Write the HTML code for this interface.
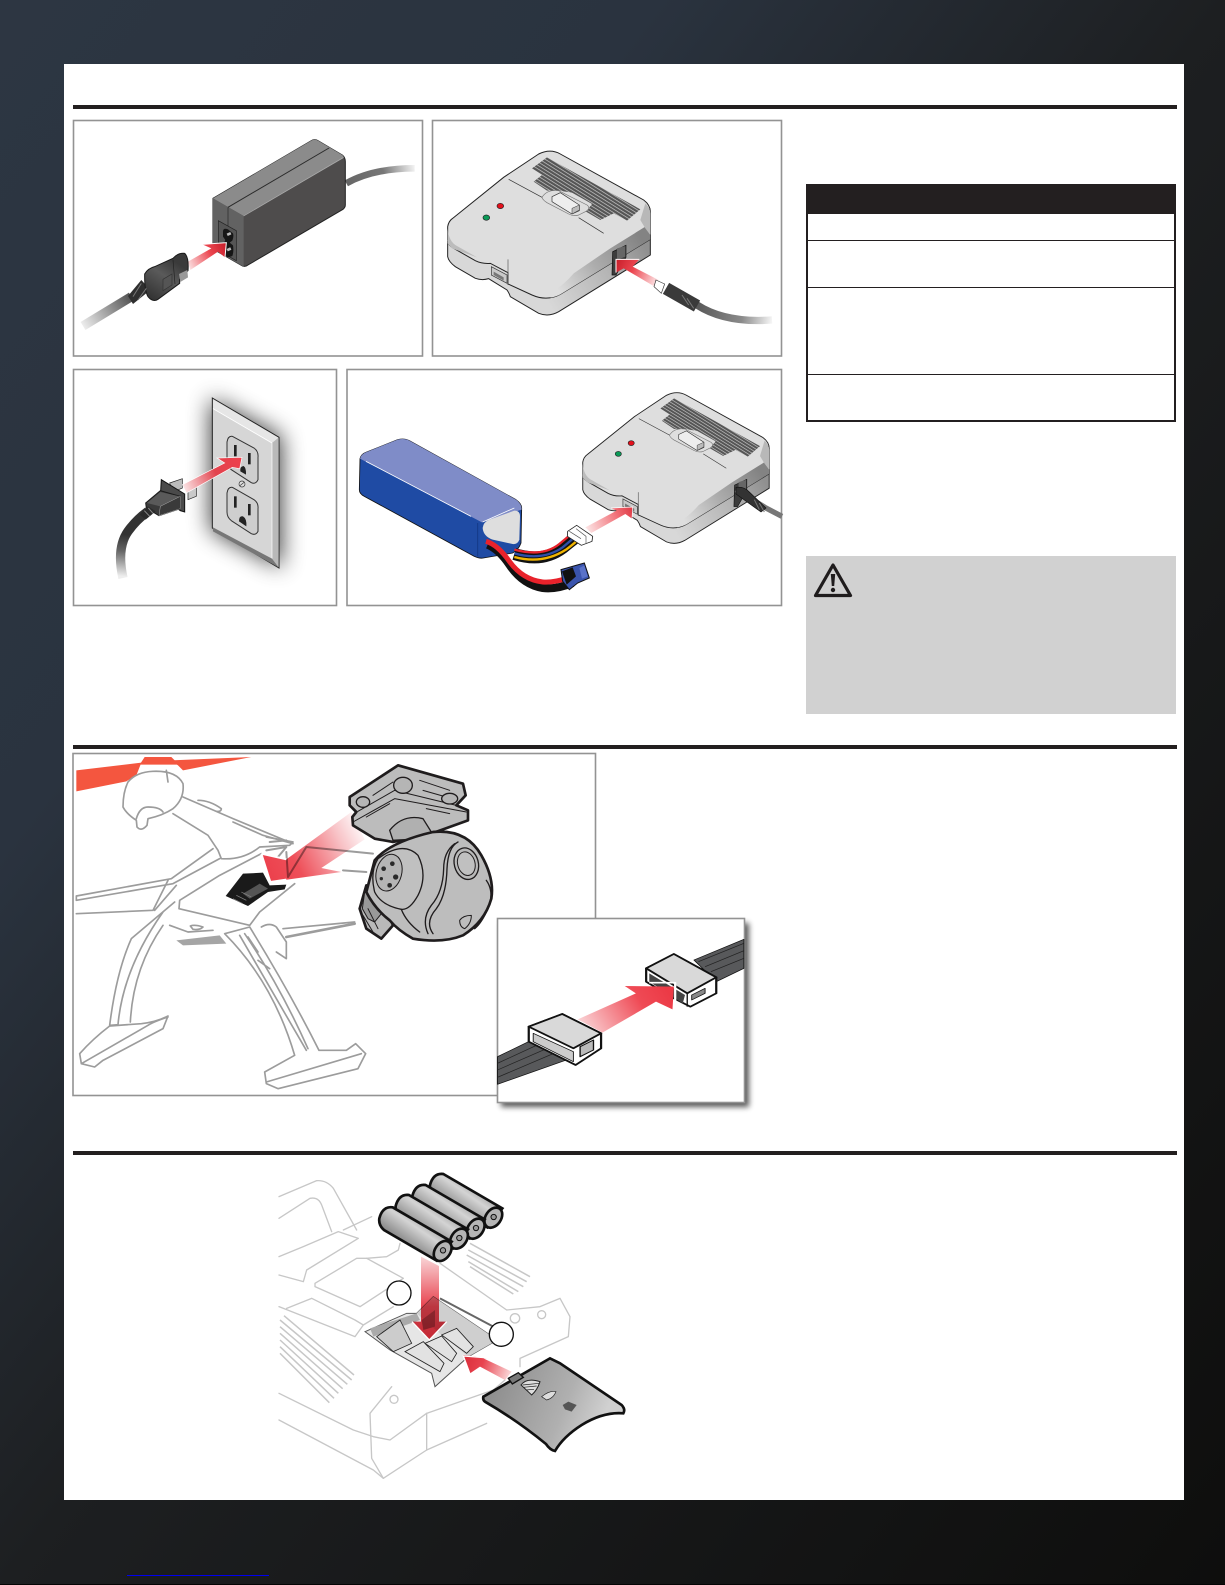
<!DOCTYPE html>
<html><head><meta charset="utf-8"><title>Setup diagram</title>
<style>
html,body{margin:0;padding:0;width:1225px;height:1585px;overflow:hidden}
body{background:linear-gradient(to bottom right,#2d3642 0,#2a333f 27%,#1d1f21 50%,#0e0e0d 100%)}
svg{position:absolute;left:0;top:0;display:block}
</style></head><body>
<svg width="1225" height="1585" viewBox="0 0 1225 1585" xmlns="http://www.w3.org/2000/svg">
<defs>
<filter id="b6" x="-60%" y="-60%" width="220%" height="220%"><feGaussianBlur stdDeviation="34"/></filter>
<filter id="b2" x="-10%" y="-10%" width="120%" height="120%"><feGaussianBlur stdDeviation="3"/></filter>
<linearGradient id="a1" gradientUnits="userSpaceOnUse" x1="345" y1="440" x2="460" y2="380"><stop offset="0" stop-color="#fbe3e4"/><stop offset=".6" stop-color="#ec4650"/><stop offset="1" stop-color="#c9202c"/></linearGradient>
<linearGradient id="c1" gradientUnits="userSpaceOnUse" x1="30" y1="620" x2="170" y2="530"><stop offset="0" stop-color="#eee"/><stop offset="1" stop-color="#555"/></linearGradient>
<linearGradient id="c2" gradientUnits="userSpaceOnUse" x1="820" y1="190" x2="1025" y2="145"><stop offset="0" stop-color="#666"/><stop offset=".55" stop-color="#777"/><stop offset="1" stop-color="#f2f2f2"/></linearGradient>
<linearGradient id="pl" gradientUnits="userSpaceOnUse" x1="225" y1="530" x2="300" y2="420"><stop offset="0" stop-color="#333"/><stop offset=".6" stop-color="#5a5a5a"/><stop offset="1" stop-color="#3a3a3a"/></linearGradient>
<linearGradient id="a2" gradientUnits="userSpaceOnUse" x1="680" y1="480" x2="555" y2="420"><stop offset="0" stop-color="#fde7e8"/><stop offset=".6" stop-color="#ec4650"/><stop offset="1" stop-color="#c9202c"/></linearGradient>
<linearGradient id="c3" gradientUnits="userSpaceOnUse" x1="800" y1="560" x2="1020" y2="600"><stop offset="0" stop-color="#5a5a5a"/><stop offset=".6" stop-color="#8a8a8a"/><stop offset="1" stop-color="#f5f5f5"/></linearGradient>
<linearGradient id="sh" gradientUnits="userSpaceOnUse" x1="385" y1="520" x2="620" y2="345"><stop offset="0" stop-color="#dedede"/><stop offset=".45" stop-color="#adadad"/><stop offset="1" stop-color="#838383"/></linearGradient>
<linearGradient id="sb" gradientUnits="userSpaceOnUse" x1="360" y1="570" x2="650" y2="400"><stop offset="0" stop-color="#d8d8d8"/><stop offset=".6" stop-color="#b5b5b5"/><stop offset="1" stop-color="#909090"/></linearGradient>
<linearGradient id="a3" gradientUnits="userSpaceOnUse" x1="330" y1="355" x2="505" y2="275"><stop offset="0" stop-color="#fbe4e5"/><stop offset=".55" stop-color="#e2434e"/><stop offset="1" stop-color="#ee3f4b"/></linearGradient>
<linearGradient id="c4" gradientUnits="userSpaceOnUse" x1="150" y1="625" x2="160" y2="500"><stop offset="0" stop-color="#eee"/><stop offset=".6" stop-color="#666"/><stop offset="1" stop-color="#333"/></linearGradient>
<linearGradient id="a4" gradientUnits="userSpaceOnUse" x1="715" y1="480" x2="860" y2="420"><stop offset="0" stop-color="#fdeaea"/><stop offset=".7" stop-color="#f06a72"/><stop offset="1" stop-color="#de3a45"/></linearGradient>
<linearGradient id="a5" gradientUnits="userSpaceOnUse" x1="870" y1="210" x2="570" y2="360"><stop offset="0" stop-color="#fff"/><stop offset=".25" stop-color="#f8c4c8"/><stop offset=".7" stop-color="#ee4f59"/><stop offset="1" stop-color="#ec3f4b"/></linearGradient>
<linearGradient id="a6" gradientUnits="userSpaceOnUse" x1="1160" y1="870" x2="1370" y2="770"><stop offset="0" stop-color="#fbdfe1"/><stop offset=".7" stop-color="#ef4a55"/><stop offset="1" stop-color="#ec3a46"/></linearGradient>
<linearGradient id="a7" gradientUnits="userSpaceOnUse" x1="510" y1="320" x2="510" y2="570"><stop offset="0" stop-color="#f9d5d7"/><stop offset=".6" stop-color="#e8434f"/><stop offset="1" stop-color="#d92d3a"/></linearGradient>
<linearGradient id="a8" gradientUnits="userSpaceOnUse" x1="755" y1="670" x2="610" y2="620"><stop offset="0" stop-color="#fbdcdd"/><stop offset=".6" stop-color="#e8434f"/><stop offset="1" stop-color="#d92d3a"/></linearGradient>
<linearGradient id="bat" gradientUnits="userSpaceOnUse" x1="385" y1="245" x2="440" y2="165"><stop offset="0" stop-color="#8a8a8a"/><stop offset=".6" stop-color="#d4d4d4"/><stop offset="1" stop-color="#9a9a9a"/></linearGradient>
<linearGradient id="cov" gradientUnits="userSpaceOnUse" x1="700" y1="700" x2="1020" y2="830"><stop offset="0" stop-color="#8e8e8e"/><stop offset=".65" stop-color="#b0b0b0"/><stop offset="1" stop-color="#d0d0d0"/></linearGradient>
<pattern id="vent" patternUnits="userSpaceOnUse" width="9" height="9" patternTransform="rotate(-58)"><rect width="9" height="9" fill="#cfcfcf"/><rect width="7" height="9" fill="#555"/></pattern>
<g id="charger">
<path d="M47 365V410Q50 425 70 440L130 475Q150 482 170 476L225 510Q232 520 235 530L320 580Q350 592 380 575L655 405V345L400 430 47 365Z" fill="url(#sb)" stroke="#222" stroke-width="3"/>
<path d="M47 320Q50 303 62 295L215 172 320 102Q355 85 385 102L635 240Q655 255 655 275V358L385 523Q345 545 300 525L228 492V458L175 430Q150 432 130 422L65 385Q47 375 47 360Z" fill="#dedede" stroke="#222" stroke-width="3"/>
<path d="M365 512Q395 495 425 460L535 385 640 320 655 345V358L385 523Q372 530 355 533Z" fill="url(#sh)"/>
<path d="M640 250Q655 265 655 280V345L640 325 625 300Z" fill="#b8b8b8"/>
<path d="M47 325Q50 365 75 378L135 412 60 385 47 370Z" fill="#bcbcbc"/>
<path d="M300 145 345 112 625 268 585 302 545 280 505 300 462 275 480 252 420 218 380 212 345 212 305 185 330 165Z" fill="url(#vent)"/>
<path d="M330 232Q345 208 380 212L465 255Q478 265 460 275L440 285Q425 290 410 282L345 248Q332 240 330 232Z" fill="#dedede" stroke="#777" stroke-width="2"/>
<path d="M360 230 385 218 442 255V272L420 282 360 245Z" fill="#eee" stroke="#333" stroke-width="2"/>
<path d="M420 282 442 270V255L420 265Z" fill="#bbb" stroke="#333" stroke-width="1.500"/>
<path d="M230 178 330 232M440 293 515 340" stroke="#333" stroke-width="2" fill="none"/>
<ellipse cx="205" cy="258" rx="10" ry="8" fill="#e3101c" stroke="#222" stroke-width="2"/>
<ellipse cx="163" cy="293" rx="10" ry="8" fill="#0b9a58" stroke="#222" stroke-width="2"/>
<path d="M178 440 225 465V490L178 465Z" fill="#c9c9c9" stroke="#333" stroke-width="2"/>
<path d="M185 455 215 472V482L185 465Z" fill="#777"/>
<path d="M228 418V495" stroke="#555" stroke-width="2"/>
<path d="M542 395 582 376V412L552 465H540Z" fill="#3c3c3c" stroke="#111" stroke-width="2"/>
<path d="M555 385 580 378V410L555 420Z" fill="#666"/>
</g>
<g id="bat1">
<path d="M358 205Q368 168 398 172L575 275 530 332 372 240Q355 225 358 205Z" fill="url(#bat)" stroke="#111" stroke-width="8"/>
<ellipse cx="548" cy="303" rx="23" ry="33" transform="rotate(35 548 303)" fill="#b5b5b5" stroke="#111" stroke-width="8"/>
<circle cx="549" cy="301" r="8" fill="#999" stroke="#111" stroke-width="3"/>
</g>
</defs>

<!-- sheet -->
<rect x="64" y="64" width="1120" height="1436" fill="#fff"/>
<rect x="127" y="1575" width="142" height="1" fill="#0000ee"/>
<rect x="0" y="1584" width="1225" height="1" fill="#050505"/>
<rect x="73" y="105" width="1104" height="4" fill="#231f20"/>
<rect x="73" y="745" width="1104" height="4" fill="#231f20"/>
<rect x="73" y="1151" width="1104" height="4" fill="#231f20"/>

<!-- frames -->
<g fill="#fff" stroke="#939393" stroke-width="1.600">
<rect x="73.500" y="120.500" width="349" height="235.500"/>
<rect x="432.500" y="120.500" width="349" height="235.500"/>
<rect x="73.500" y="369.500" width="263" height="236"/>
<rect x="347" y="369.500" width="434.500" height="236"/>
<rect x="73" y="753.500" width="522.500" height="342"/>
</g>

<!-- table -->
<rect x="807" y="185" width="368" height="236" fill="#fff" stroke="#231f20" stroke-width="2"/>
<rect x="806" y="184" width="370" height="30" fill="#231f20"/>
<rect x="807" y="240" width="368" height="1" fill="#231f20"/>
<rect x="807" y="287" width="368" height="1" fill="#231f20"/>
<rect x="807" y="374" width="368" height="1" fill="#231f20"/>

<!-- warning -->
<rect x="806" y="556" width="370" height="158" fill="#d1d1d1"/>
<path d="M833 565 850.500 595.500H815.500Z" fill="none" stroke="#1f1c1d" stroke-width="3.200" stroke-linejoin="round"/>
<path d="M830.800 574h4.400l-1 12h-2.400z" fill="#1f1c1d"/><circle cx="833" cy="590" r="2.200" fill="#1f1c1d"/>

<!-- PANEL 1 adapter -->
<g transform="translate(73,120) scale(.33333)">
<path d="M820 190Q900 145 1025 145" fill="none" stroke="url(#c2)" stroke-width="20"/>
<path d="M30 618 175 530" stroke="url(#c1)" stroke-width="28" fill="none"/>
<path d="M420 235 715 62Q725 56 735 62L808 105Q817 112 817 125V255Q817 262 810 268L525 435Q515 443 505 436L425 390Q420 386 420 378Z" fill="#4e4c4c" stroke="#222" stroke-width="3"/>
<path d="M420 235 715 62Q725 56 735 62L808 105Q817 112 805 118L512 288Z" fill="#8b8b8b"/>
<path d="M420 235 512 288V440L505 436 425 390Q420 386 420 378Z" fill="#626262"/>
<path d="M465 262 768 84" stroke="#2a2a2a" stroke-width="3" fill="none"/>
<path d="M465 262V322" stroke="#333" stroke-width="2.500"/>
<path d="M512 288 812 112" stroke="#aaa" stroke-width="2"/>
<path d="M436 302 490 332V422L436 392Z" fill="#555" stroke="#222" stroke-width="2"/>
<path d="M450 335Q450 322 465 328L480 340Q483 350 478 362L470 368 480 376Q483 395 478 408L465 412Q450 405 450 390V375L457 360 450 350Z" fill="#161616"/>
<rect x="462" y="338" width="12" height="8" fill="#bbb" transform="rotate(-25 468 342)"/>
<rect x="462" y="384" width="12" height="8" fill="#bbb" transform="rotate(-25 468 388)"/>
<path d="M345 425 415 385 388 373 460 368 456 412 435 395 352 450Z" fill="url(#a1)"/>
<path d="M388 373 460 368 456 412" fill="none" stroke="#fff" stroke-width="3"/>
<path d="M165 528 205 480 232 510 180 552Z" fill="#2f2f2f"/>
<path d="M215 462Q225 445 245 440L300 415Q315 398 335 400 348 412 345 452L320 478V490L255 538Q240 548 225 530Q214 510 215 462Z" fill="url(#pl)" stroke="#1a1a1a" stroke-width="3"/>
<path d="M270 478 297 462V495L270 512Z" fill="#555" stroke="#333" stroke-width="2"/>
<path d="M318 462 343 450 345 472 322 486Z" fill="#999"/>
<path d="M300 420 306 492" stroke="#222" stroke-width="2"/>
<path d="M180 530 205 490M195 540 220 505" stroke="#777" stroke-width="3"/>
</g>

<!-- PANEL 2 charger -->
<g transform="translate(432,120) scale(.33333)">
<path d="M795 555Q880 610 1020 600" fill="none" stroke="url(#c3)" stroke-width="22"/>
<use href="#charger"/>
<path d="M680 480 602 440 622 418 552 418 552 458 575 445 668 500Z" fill="url(#a2)"/>
<path d="M622 418 552 418 552 458" fill="none" stroke="#fff" stroke-width="3"/>
<path d="M672 480 698 492 688 520 666 500Z" fill="#fff" stroke="#333" stroke-width="2"/>
<path d="M702 505 795 558" stroke="#3a3a3a" stroke-width="38" fill="none"/>
<path d="M750 525 770 555M765 535 785 565" stroke="#777" stroke-width="3"/>
</g>

<!-- PANEL 3 outlet -->
<g transform="translate(73,368) scale(.33333)">
<path d="M412 90 626 205V600L412 485Z" fill="#000" opacity=".75" filter="url(#b6)"/>
<path d="M418 90 618 208V600L418 480Z" fill="#d6d6d6" stroke="#222" stroke-width="3"/>
<path d="M420 94 616 209 597 225 420 122Z" fill="#e6e6e6"/>
<path d="M420 122 597 225" stroke="#fff" stroke-width="2.500"/>
<path d="M597 225 617 209V598L597 572Z" fill="#b9b9b9"/>
<path d="M597 225V572" stroke="#fff" stroke-width="2"/>
<path d="M420 478 597 572 617 598 420 490Z" fill="#777"/>
<g fill="#cecece" stroke="#333" stroke-width="3">
<path d="M478 205 543 240Q557 250 555 268V335Q548 350 535 344L475 305Q462 295 462 280V222Q465 203 478 205Z"/>
<path d="M478 358 543 395Q557 405 555 422V490Q548 503 535 497L475 458Q462 448 462 432V375Q465 356 478 358Z"/>
</g>
<g fill="#222">
<rect x="483" y="231" width="8" height="34"/><rect x="525" y="255" width="8" height="34"/>
<path d="M502 310Q500 295 512 294 520 300 519 320Z"/>
<rect x="483" y="385" width="8" height="34"/><rect x="525" y="408" width="8" height="34"/>
<path d="M498 460Q498 442 510 445 522 452 520 475Z"/>
</g>
<circle cx="507" cy="348" r="9" fill="#ddd" stroke="#333" stroke-width="2"/>
<path d="M501 353 513 343" stroke="#333" stroke-width="2"/>
<path d="M150 630Q130 540 165 490 190 455 225 430" fill="none" stroke="url(#c4)" stroke-width="28"/>
<path d="M290 345 328 332V360L300 372Z" fill="#bbb" stroke="#222" stroke-width="2"/>
<path d="M345 368 370 358V385L345 395Z" fill="#c9c9c9" stroke="#222" stroke-width="2"/>
<path d="M328 350 455 285 432 270 507 268 500 302 478 298 340 375Z" fill="url(#a3)" stroke="#fff" stroke-width="2"/>
<path d="M265 335 335 378V432L322 428 262 385Z" fill="#4a4a4a" stroke="#111" stroke-width="3"/>
<path d="M218 405 262 368 322 385V422L258 443 220 420Z" fill="#3a3a3a" stroke="#1a1a1a" stroke-width="3"/>
<path d="M222 405 262 372 320 385 262 415Z" fill="#5a5a5a"/>
<path d="M262 415 322 385V422L258 443Z" fill="#3a3a3a" stroke="#aaa" stroke-width="1.500"/>
<path d="M200 440 225 415 248 430 218 455Z" fill="#2a2a2a"/>
<path d="M214 428 230 445M226 420 240 436" stroke="#888" stroke-width="3"/>
</g>

<!-- PANEL 4 battery & charger -->
<g transform="translate(346,368) scale(.33333)">
<path d="M42 272Q45 258 62 252L155 215Q175 210 190 218L510 395Q527 407 527 420L525 525Q518 545 500 555L412 570Q400 572 385 565L55 385Q40 378 40 365Z" fill="#1f4ba4" stroke="#111" stroke-width="2.500"/>
<path d="M42 272Q45 258 62 252L155 215Q175 210 190 218L510 395Q527 407 527 425L408 463Z" fill="#7f8cc8"/>
<path d="M60 280 375 445M410 462 505 420" stroke="#fff" stroke-width="2.500" fill="none"/>
<path d="M410 480Q412 462 430 455L505 428Q522 428 522 445L520 515Q515 530 500 528L440 515Q412 505 410 480Z" fill="#dedede"/>
<path d="M395 465V565" stroke="#153a88" stroke-width="3"/>
<g fill="none">
<path d="M505 558Q590 585 650 540 680 515 695 505" stroke="#111" stroke-width="36"/>
<path d="M505 545Q590 568 640 528 670 503 685 490" stroke="#e8222b" stroke-width="7"/>
<path d="M505 556Q590 580 650 538 680 513 693 501" stroke="#2d4fa8" stroke-width="7"/>
<path d="M505 567Q590 590 660 545 690 523 700 510" stroke="#f0b400" stroke-width="7"/>
<path d="M425 530Q460 545 490 590 530 650 590 660 630 665 680 645" stroke="#111" stroke-width="24"/>
<path d="M420 520Q455 530 490 580 530 635 590 642 620 645 665 630" stroke="#e8222b" stroke-width="15"/>
</g>
<path d="M665 490 692 472 740 505 738 520 706 532 664 505Z" fill="#fff" stroke="#222" stroke-width="2.500"/>
<path d="M690 482 720 505V525M670 490 705 512" stroke="#555" stroke-width="2" fill="none"/>
<path d="M645 605 715 585 730 630 695 645 670 665 650 640Z" fill="#3a54ad" stroke="#111" stroke-width="3"/>
<path d="M648 610 680 598 690 625 662 650Z" fill="#111"/>
<path d="M700 600 715 592 725 625 708 632Z" fill="#5a72c8"/>
<g transform="translate(667,-12) scale(.92)"><use href="#charger"/></g>
<path d="M1170 365 1260 420 1308 445" stroke="#777" stroke-width="16" fill="none"/>
<path d="M1170 358Q1195 355 1210 372L1260 420 1245 432 1170 378Z" fill="#333" stroke="#111" stroke-width="2"/>
<path d="M1225 395 1240 425M1240 405 1255 432" stroke="#777" stroke-width="3"/>
<path d="M718 478 812 428 795 420 860 417 858 452 838 438 736 495Z" fill="url(#a4)"/>
<path d="M795 420 860 417 858 452" fill="none" stroke="#fff" stroke-width="2"/>
</g>

<!-- PANEL 5 drone -->
<g transform="translate(73,752) scale(.33333)">
<path d="M10 55 205 32 190 70 160 88 10 118Z" fill="#f4563f"/>
<path d="M295 25 535 15 330 55 315 40Z" fill="#f4563f"/>
<path d="M215 15H295L318 38 200 38Z" fill="#f4563f"/>
<g fill="none" stroke="#9c9c9c" stroke-width="5" stroke-linejoin="round" stroke-linecap="round">
<path d="M150 165Q150 120 165 90 190 60 240 58 310 55 330 95 335 140 300 170 270 190 225 200L222 220Q205 240 192 225L190 205Q160 185 150 165Z" fill="#fff"/>
<path d="M190 200Q200 165 225 165 260 165 270 180"/>
<path d="M280 55 285 90"/>
<path d="M330 135 480 200 660 275M375 145Q410 145 445 170 445 180 430 178M480 210 570 250 660 275"/>
<path d="M300 185 405 250 435 295 445 320Q510 325 560 285L650 280 660 270 580 255"/>
<path d="M420 290 295 380 10 432V445L300 395 440 320"/>
<path d="M285 385 240 475 10 485M310 400 245 475"/>
<path d="M565 305 440 370 320 445 318 470 530 520 560 480 665 395"/>
<path d="M305 450 175 560Q130 660 110 820L135 818Q150 650 270 480M172 810Q180 650 270 520"/>
<path d="M110 822 205 815Q250 810 285 792L270 830 90 925 65 945 25 935 20 905Q60 860 110 822ZM25 935 225 820Q240 810 285 795"/>
<path d="M455 545 530 525Q650 720 738 895L820 895 848 875 878 905 855 950 615 1010 580 995 575 960 665 910Q600 690 455 545ZM580 990 865 905"/>
<path d="M500 550 700 895M515 545Q620 700 705 890M525 555 555 600M555 625 590 650"/>
<path d="M565 525Q590 510 610 525L640 570 640 620 610 600M630 530 845 510"/>
<path d="M290 520 345 540 420 535"/>
<path d="M640 555 845 515" stroke-width="8"/>
<path d="M310 565 440 550 460 575 330 580Z" fill="#a5a5a5" stroke="none"/>
<path d="M352 522Q365 517 390 525 380 535 360 532Z"/>
<path d="M590 270 640 265M580 295 640 285 615 315M640 300 645 375 700 285M700 285 900 305M810 355 880 360" stroke-width="6"/>
</g>
<path d="M458 432 510 365 570 362 590 400 640 398 635 412 585 420 525 462Z" fill="#1a1a1a"/>
<path d="M510 425 560 395 585 410 530 440Z" fill="#555"/>
<path d="M490 430 520 445M505 420 535 435M480 440 510 455" stroke="#888" stroke-width="2"/>
<path d="M835 180 640 322 565 305 592 390 805 360 745 348 875 262Z" fill="url(#a5)" style="mix-blend-mode:multiply"/>
<path d="M565 305 640 322M565 305 592 390 640 383" fill="none" stroke="#fff" stroke-width="6"/>
<g stroke="#1f1c1d" stroke-linejoin="round" stroke-linecap="round">
<path d="M860 470 880 530 925 560 960 520 920 420 880 400Z" fill="#b9b9b9" stroke-width="8"/>
<path d="M875 420 905 440 925 485 905 510 885 500 868 470ZM870 490 900 540M885 470 915 530" fill="#999" stroke-width="3"/>
<path d="M830 135 975 40 1170 95 1178 130 1150 160 1185 175 1185 205 1060 250 960 270 905 260 840 220 838 195 850 180 830 160Z" fill="#bcbcbc" stroke-width="8"/>
<path d="M855 178 965 115 1150 160M840 210 965 140 1180 180M900 130 960 90M1040 85 1130 115M1050 115 1120 135M880 195 950 155M1060 170 1130 185" fill="none" stroke-width="3"/>
<ellipse cx="990" cy="100" rx="28" ry="24" fill="#b5b5b5" stroke-width="4"/>
<ellipse cx="870" cy="150" rx="20" ry="16" fill="#b5b5b5" stroke-width="4"/>
<ellipse cx="1130" cy="140" rx="24" ry="16" fill="#b5b5b5" stroke-width="4"/>
<path d="M950 235Q990 185 1050 200L1075 240 1050 260 960 265Z" fill="#b0b0b0" stroke-width="4"/>
<path d="M905 325Q950 270 1080 240 1180 230 1225 310 1265 380 1255 440 1235 510 1170 550 1110 575 1020 560 975 535 950 505 905 470 880 420Z" fill="#bdbdbd" stroke-width="8"/>
<path d="M915 320Q990 265 1035 310 1065 370 1035 430 1010 475 985 472 925 460 905 420 890 360 915 320Z" fill="#c0c0c0" stroke-width="4"/>
<ellipse cx="948" cy="362" rx="38" ry="56" transform="rotate(15 948 362)" fill="#b5b5b5" stroke-width="3"/>
<g fill="#2a2a2a" stroke="none"><circle cx="958" cy="335" r="7"/><circle cx="932" cy="350" r="7"/><circle cx="968" cy="375" r="8"/><circle cx="925" cy="380" r="5"/><circle cx="950" cy="400" r="7"/></g>
<ellipse cx="1180" cy="335" rx="36" ry="48" transform="rotate(-15 1180 335)" fill="#b9b9b9" stroke-width="4"/>
<ellipse cx="1180" cy="335" rx="26" ry="36" transform="rotate(-15 1180 335)" fill="#c0c0c0" stroke-width="3"/>
<path d="M1155 270Q1125 285 1122 350 1120 430 1090 470 1055 510 1080 545M1145 275Q1112 300 1112 350 1110 420 1075 460 1045 500 1065 545M985 472Q1000 510 1040 540" fill="none" stroke-width="4"/>
<path d="M1160 505Q1170 490 1195 490 1195 515 1175 530 1160 525 1160 505Z" fill="none" stroke-width="3"/>
<path d="M1240 385Q1265 420 1245 470 1225 515 1205 530" fill="none" stroke-width="4"/>
</g>
</g>

<!-- PANEL 6 connector inset -->
<rect x="501" y="923" width="248" height="184" fill="#000" opacity=".65" filter="url(#b2)"/>
<rect x="497.500" y="918.500" width="247" height="184" fill="#fff" stroke="#939393" stroke-width="1.600"/>
<g transform="translate(60,740) scale(.44643,.33333)" stroke-linejoin="round">
<path d="M1420 660 1532 598V685L1470 725Z" fill="#58595b" stroke="#111" stroke-width="2"/>
<path d="M1430 665 1532 610M1445 680 1532 632M1458 695 1532 655" stroke="#222" stroke-width="2"/>
<path d="M1313 685 1375 642 1470 712 1470 760 1412 800 1375 775 1313 725Z" fill="#fff" stroke="#111" stroke-width="5"/>
<path d="M1313 685 1375 642 1470 712 1405 760Z" fill="#d9d9d9" stroke="#111" stroke-width="5"/>
<path d="M1405 760V800" stroke="#111" stroke-width="3"/>
<path d="M1320 700 1400 765 1395 790 1320 725Z" fill="#444"/>
<path d="M1415 765 1445 745V760L1415 780Z" fill="#888" stroke="#111" stroke-width="2"/>
<path d="M1160 838 1290 760 1265 738 1375 740 1372 808 1335 785 1215 878Z" fill="url(#a6)"/>
<path d="M1320 728H1378V785" stroke="#fff" stroke-width="5" fill="none"/>
<path d="M980 950 1065 895 1145 955 980 1033Z" fill="#58595b" stroke="#111" stroke-width="2"/>
<path d="M980 970 1085 905M980 990 1100 920M980 1012 1115 935" stroke="#222" stroke-width="2"/>
<path d="M1050 860 1125 822 1212 880 1212 925 1155 975 1050 905Z" fill="#fff" stroke="#111" stroke-width="5"/>
<path d="M1050 860 1125 822 1212 880 1150 925Z" fill="#d9d9d9" stroke="#111" stroke-width="5"/>
<path d="M1060 880 1150 935 1150 965 1060 905Z" fill="#ccc" stroke="#111" stroke-width="2"/>
<path d="M1165 920 1195 900V930L1165 950Z" fill="#bbb" stroke="#111" stroke-width="3"/>
</g>

<!-- PANEL 7 transmitter -->
<g transform="translate(260,1150) scale(.33333)">
<g fill="none" stroke="#c7c7c7" stroke-width="4" stroke-linejoin="round" stroke-linecap="round">
<path d="M57 140 170 92Q200 90 220 115L290 240"/>
<path d="M57 205 150 145Q175 140 185 165L215 245"/>
<path d="M57 320 130 290 235 245 295 265 140 360 130 395 57 375"/>
<path d="M250 240 335 200"/>
<path d="M165 400 290 325H320L430 385 300 470 165 410Z"/>
<path d="M420 280 415 300 380 320 320 325"/>
<path d="M57 470 285 560 310 525 400 470M80 475 155 445 285 510 310 525"/>
<path d="M57 730 280 840 340 860 390 870 500 790 700 720 735 690"/>
<path d="M395 710 330 790 335 925 370 985 500 900V790"/>
<path d="M57 810 340 960 370 985"/>
<path d="M500 900 680 820"/>
<path d="M540 340 740 480 840 470 900 445 930 500 925 560 780 625V650"/>
<circle cx="402" cy="748" r="12"/><circle cx="845" cy="494" r="12"/>
<circle cx="765" cy="505" r="14"/>
</g>
<g fill="none" stroke="#c7c7c7" stroke-width="4.500">
<path d="M60 510 275 690M60 530 262 703M60 550 248 716M60 570 235 730M60 590 222 745M72 497 282 675M60 610 208 758"/>
<path d="M625 300 800 395M620 315 790 410M630 280 810 380M625 335 775 425M630 350 760 432"/>
</g>
<path d="M315 545 440 490H470L520 440 712 570 625 620 525 710 515 670 390 600Z" fill="#e6e6e6" stroke="#555" stroke-width="3"/>
<path d="M470 490 520 440 712 570 625 620 545 555Z" fill="#cfcfcf"/>
<path d="M330 535 470 490 480 510 340 560Z" fill="#aaa"/>
<path d="M540 445 700 530" stroke="#666" stroke-width="6"/>
<path d="M435 605 490 575 552 640 540 665Z M495 580 545 558 590 610 575 635Z M545 555 590 535 640 590 620 610Z" fill="#e2e2e2" stroke="#222" stroke-width="2.500"/>
<path d="M350 560 420 510 455 580 400 605Z" fill="#ccc" stroke="#222" stroke-width="2.500"/>
<path d="M485 510 525 480 525 530 490 540Z" fill="#999"/>
<use href="#bat1" transform="translate(152,-100)"/>
<use href="#bat1" transform="translate(99,-67)"/>
<use href="#bat1" transform="translate(49,-37)"/>
<use href="#bat1"/>
<path d="M483 320 537 348V515L560 515 508 570 456 515 483 515Z" fill="url(#a7)" style="mix-blend-mode:multiply"/>
<path d="M456 515 508 570 560 515" fill="none" stroke="#fff" stroke-width="4"/>
<path d="M755 665 670 625 700 625 610 615 630 670 660 650 735 690Z" fill="url(#a8)"/>
<path d="M700 625 610 618 630 672" fill="none" stroke="#fff" stroke-width="4"/>
<circle cx="417" cy="429" r="36" fill="#fff" stroke="#111" stroke-width="4"/>
<circle cx="724" cy="553" r="36" fill="#fff" stroke="#111" stroke-width="4"/>
<path d="M670 740 870 625 900 640 1085 765Q1097 778 1090 790 1030 785 965 825 910 860 885 903 870 900 858 882Q770 810 675 755Q668 750 670 740Z" fill="url(#cov)" stroke="#111" stroke-width="8"/>
<path d="M745 685 775 668 790 682 757 702Z" fill="#777" stroke="#111" stroke-width="4"/>
<path d="M783 705Q800 682 840 695 832 720 815 735Z" fill="#ddd" stroke="#222" stroke-width="3"/>
<path d="M788 705 838 700M790 712 830 708M798 720 822 718" stroke="#222" stroke-width="2"/>
<path d="M845 740Q870 720 888 725 880 745 860 750Z" fill="#ddd" stroke="#222" stroke-width="2"/>
<path d="M908 765 925 755 950 765 935 785 915 778Z" fill="#555"/>
</g>
</svg>
</body></html>
